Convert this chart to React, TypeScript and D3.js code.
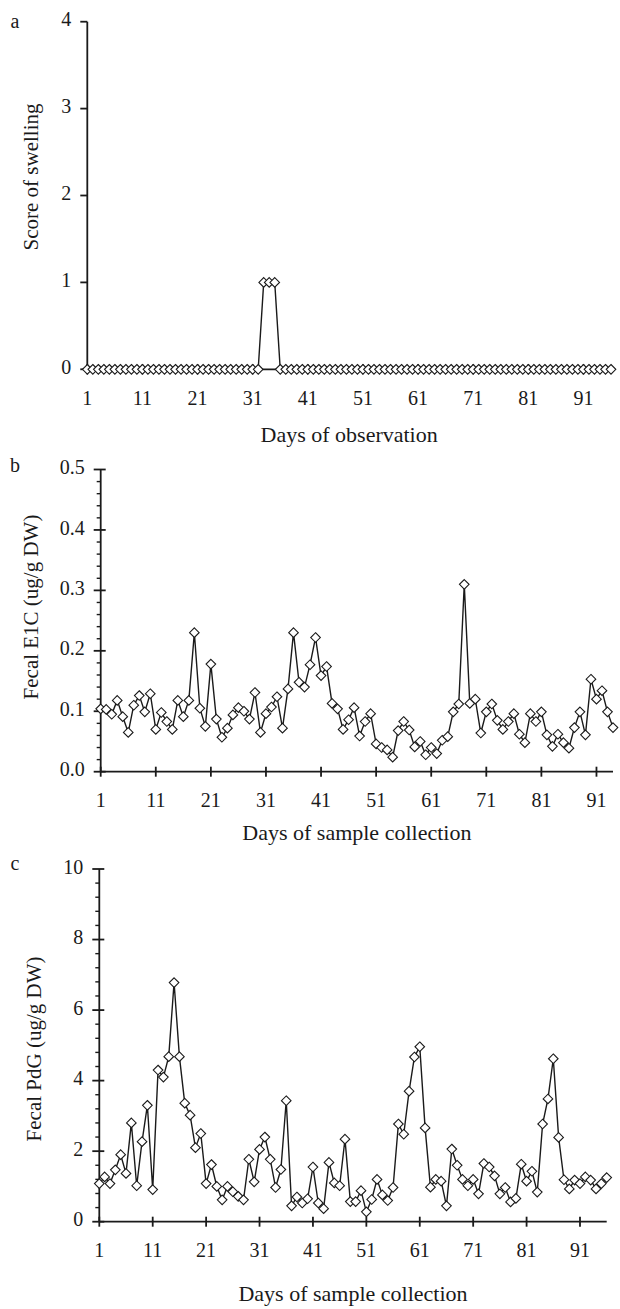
import React from "react";
import * as d3 from "d3";

// panel a: score of swelling, days 1-96
const swelling = [
  0, 0, 0, 0, 0, 0, 0, 0, 0, 0, // 1-10
  0, 0, 0, 0, 0, 0, 0, 0, 0, 0, // 11-20
  0, 0, 0, 0, 0, 0, 0, 0, 0, 0, // 21-30
  0, 0, 1, 1, 1, 0, 0, 0, 0, 0, // 31-40
  0, 0, 0, 0, 0, 0, 0, 0, 0, 0, // 41-50
  0, 0, 0, 0, 0, 0, 0, 0, 0, 0, // 51-60
  0, 0, 0, 0, 0, 0, 0, 0, 0, 0, // 61-70
  0, 0, 0, 0, 0, 0, 0, 0, 0, 0, // 71-80
  0, 0, 0, 0, 0, 0, 0, 0, 0, 0, // 81-90
  0, 0, 0, 0, 0, 0, // 91-96
];

// panel b: fecal E1C (ug/g DW), days 1-94
const e1c = [
  0.104, 0.103, 0.095, 0.118, 0.091, 0.065, 0.11, 0.126, 0.099, 0.129,
  0.07, 0.098, 0.083, 0.07, 0.118, 0.091, 0.118, 0.23, 0.105, 0.075,
  0.178, 0.087, 0.057, 0.072, 0.094, 0.106, 0.1, 0.087, 0.131, 0.065,
  0.096, 0.107, 0.124, 0.072, 0.137, 0.23, 0.148, 0.14, 0.177, 0.222,
  0.159, 0.174, 0.113, 0.104, 0.07, 0.086, 0.106, 0.059, 0.083, 0.096,
  0.046, 0.04, 0.036, 0.024, 0.068, 0.083, 0.069, 0.041, 0.05, 0.028,
  0.04, 0.03, 0.052, 0.058, 0.099, 0.112, 0.31, 0.113, 0.12, 0.064,
  0.099, 0.112, 0.085, 0.07, 0.083, 0.096, 0.062, 0.048, 0.096, 0.083,
  0.099, 0.061, 0.042, 0.062, 0.048, 0.039, 0.073, 0.099, 0.061, 0.153,
  0.12, 0.134, 0.099, 0.073,
];

// panel c: fecal PdG (ug/g DW), days 1-96
const pdg = [
  1.08, 1.27, 1.08, 1.47, 1.9, 1.37, 2.8, 1.02, 2.27, 3.3,
  0.91, 4.3, 4.1, 4.68, 6.78, 4.68, 3.36, 3.02, 2.1, 2.5,
  1.08, 1.62, 1.0, 0.62, 1.0, 0.85, 0.72, 0.62, 1.77, 1.13,
  2.05, 2.4, 1.77, 0.97, 1.48, 3.43, 0.45, 0.7, 0.53, 0.65,
  1.55, 0.53, 0.37, 1.68, 1.1, 1.02, 2.34, 0.57, 0.57, 0.88,
  0.28, 0.63, 1.2, 0.76, 0.6, 0.97, 2.77, 2.48, 3.7, 4.67,
  4.96, 2.66, 0.98, 1.2, 1.15, 0.45, 2.06, 1.6, 1.2, 1.02,
  1.2, 0.79, 1.65, 1.55, 1.3, 0.79, 0.97, 0.56, 0.66, 1.63,
  1.15, 1.43, 0.84, 2.77, 3.48, 4.62, 2.39, 1.19, 0.93, 1.18,
  1.08, 1.27, 1.18, 0.93, 1.08, 1.25,
];

const dayTicks = [1, 11, 21, 31, 41, 51, 61, 71, 81, 91];
const swellingTicks = [0, 1, 2, 3, 4];
const e1cTicks = [0, 0.1, 0.2, 0.3, 0.4, 0.5];
const pdgTicks = [0, 2, 4, 6, 8, 10];

const FONT = "'Liberation Serif', 'Times New Roman', serif";
const INK = "#1a1a1a";

function Diamond({ x, y }) {
  const r = 4.8;
  return (
    <path
      d={`M${x},${y - r}L${x + r},${y}L${x},${y + r}L${x - r},${y}Z`}
      fill="#fff"
      stroke={INK}
      strokeWidth={1.1}
    />
  );
}

function Panel({
  values, letter, xLeft, xRight, yTop, yBottom, yMax, yTicks, yFormat,
  minor, crossTicks, yTitle, yTitleX, yTitleY, xTitle, xTitleY, letterY,
}) {
  const n = values.length;
  const x = d3.scaleLinear().domain([1, n]).range([xLeft, xRight]);
  const y = d3.scaleLinear().domain([0, yMax]).range([yBottom, yTop]);
  const line = d3.line<number>().x((_, i) => x(i + 1)).y((d) => y(d));
  const minorTicks = minor ? d3.range(0, yMax + 1e-9, minor).filter(
    (v) => !yTicks.some((t) => Math.abs(t - v) < 1e-9)) : [];
  const tIn = crossTicks ? 5 : 0;
  return (
    <g fontFamily={FONT} fill={INK}>
      <text x={15} y={letterY} fontSize={20} dominantBaseline="middle" textAnchor="middle">{letter}</text>
      {/* x axis */}
      <line x1={xLeft} x2={xRight} y1={yBottom} y2={yBottom} stroke={INK} strokeWidth={1.8} />
      {dayTicks.map((d) => (
        <g key={d}>
          <line x1={x(d)} x2={x(d)} y1={yBottom - 5} y2={yBottom + 5} stroke={INK} strokeWidth={1.8} />
          <text x={x(d)} y={yBottom + 31} fontSize={20} textAnchor="middle" dominantBaseline="middle">{d}</text>
        </g>
      ))}
      {/* y axis */}
      <line x1={xLeft} x2={xLeft} y1={yTop} y2={yBottom} stroke={INK} strokeWidth={1.8} />
      {minorTicks.map((v) => (
        <line key={"m" + v} x1={xLeft - 4} x2={xLeft} y1={y(v)} y2={y(v)} stroke={INK} strokeWidth={1.4} />
      ))}
      {yTicks.map((v) => (
        <g key={v}>
          <line x1={xLeft - 7} x2={xLeft + tIn} y1={y(v)} y2={y(v)} stroke={INK} strokeWidth={1.8} />
          <text x={xLeft - 16} y={y(v)} fontSize={20} textAnchor="end" dominantBaseline="middle">{yFormat(v)}</text>
        </g>
      ))}
      <text
        transform={`translate(${yTitleX},${yTitleY}) rotate(-90)`}
        fontSize={21} textAnchor="middle" dominantBaseline="middle"
      >{yTitle}</text>
      <text x={(xLeft + xRight) / 2} y={xTitleY} fontSize={22} textAnchor="middle" dominantBaseline="middle">{xTitle}</text>
      {/* series */}
      <path d={line(values) || ""} fill="none" stroke={INK} strokeWidth={1.4} />
      {values.map((v, i) => (
        <Diamond key={i} x={x(i + 1)} y={y(v)} />
      ))}
    </g>
  );
}

export default function App() {
  return (
    <svg
      width={620}
      height={1309}
      style={{ position: "absolute", left: 0, top: 0, background: "#fff" }}
    >
      <rect width={620} height={1309} fill="#fff" />
      <Panel
        values={swelling} letter="a" letterY={23}
        xLeft={87.3} xRight={611} yTop={21.7} yBottom={369.3} yMax={4}
        yTicks={swellingTicks} yFormat={(v) => String(v)} minor={0} crossTicks={false}
        yTitle="Score of swelling" yTitleX={33} yTitleY={177}
        xTitle="Days of observation" xTitleY={437}
      />
      <Panel
        values={e1c} letter="b" letterY={467}
        xLeft={100.7} xRight={613} yTop={469.5} yBottom={771.7} yMax={0.5}
        yTicks={e1cTicks} yFormat={d3.format(".1f")} minor={0.02} crossTicks={true}
        yTitle="Fecal E1C (ug/g DW)" yTitleX={33} yTitleY={607}
        xTitle="Days of sample collection" xTitleY={835}
      />
      <Panel
        values={pdg} letter="c" letterY={865}
        xLeft={99.3} xRight={606.7} yTop={869} yBottom={1221.7} yMax={10}
        yTicks={pdgTicks} yFormat={(v) => String(v)} minor={0.4} crossTicks={true}
        yTitle="Fecal PdG (ug/g DW)" yTitleX={36} yTitleY={1049}
        xTitle="Days of sample collection" xTitleY={1296}
      />
    </svg>
  );
}
